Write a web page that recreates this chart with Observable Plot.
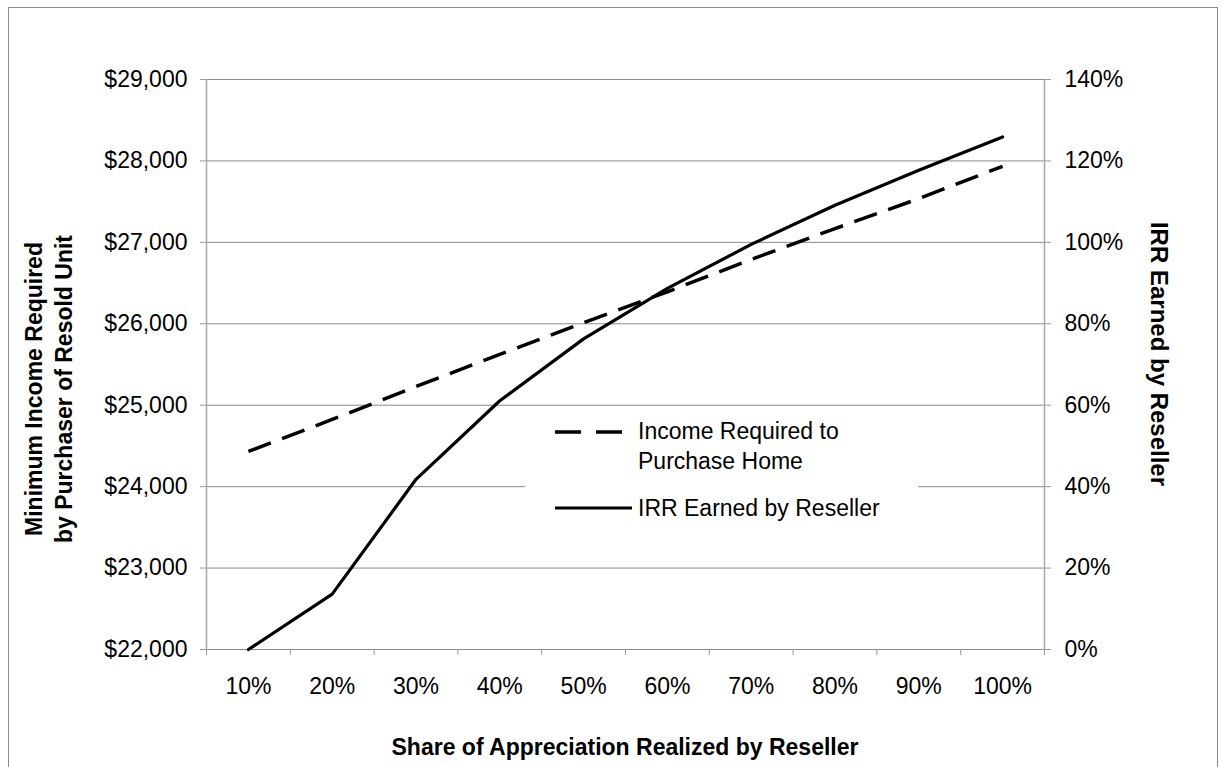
<!DOCTYPE html>
<html>
<head>
<meta charset="utf-8">
<script src="https://cdn.jsdelivr.net/npm/d3@7"></script>
<script src="https://cdn.jsdelivr.net/npm/@observablehq/plot@0.6"></script>
<style>
  html, body { margin: 0; padding: 0; background: #fff; }
  #chart svg { display: block; }
</style>
</head>
<body>
<div id="chart"></div>
<script>
// ---- data ----
const shareLabels = ["10%", "20%", "30%", "40%", "50%", "60%", "70%", "80%", "90%", "100%"];
const incomeRequired = [24432, 24825, 25229, 25625, 26013, 26393, 26790, 27169, 27537, 27934];
const irrEarned = [0, 13.6, 41.8, 61.1, 76.3, 88.7, 99.5, 109.1, 117.7, 125.9]; // percent
const incomeTicks = [22000, 23000, 24000, 25000, 26000, 27000, 28000, 29000];
const irrTicks = [0, 20, 40, 60, 80, 100, 120, 140];
const seriesNames = ["Income Required to Purchase Home", "IRR Earned by Reseller"];

// right axis maps IRR 0..140% onto the left scale 22000..29000
const irrToY = v => incomeTicks[0] + v * (incomeTicks[incomeTicks.length - 1] - incomeTicks[0]) / irrTicks[irrTicks.length - 1];

const incomeRows = shareLabels.map((s, i) => ({pos: i + 1, value: incomeRequired[i]}));
const irrRows = shareLabels.map((s, i) => ({pos: i + 1, value: irrToY(irrEarned[i])}));
const centers = shareLabels.map((s, i) => i + 1);
const bounds = [...shareLabels.map((s, i) => i + 0.5), shareLabels.length + 0.5];

const font = "'Liberation Sans', Arial, sans-serif";
const fmtMoney = d3.format(",");

const chart = Plot.plot({
  width: 1226,
  height: 767,
  marginLeft: 206,
  marginRight: 182,
  marginTop: 79,
  marginBottom: 118,
  style: {fontFamily: font, fontSize: "23px", color: "#000", background: "#fff"},
  x: {domain: [0.5, shareLabels.length + 0.5]},
  y: {domain: [incomeTicks[0], incomeTicks[incomeTicks.length - 1]]},
  marks: [
    Plot.gridY(incomeTicks, {stroke: "#8a8a8a", strokeOpacity: 1, strokeWidth: 1}),
    Plot.ruleX([0.5, shareLabels.length + 0.5], {stroke: "#a8a8a8", strokeWidth: 1.5}),
    Plot.axisY(incomeTicks, {anchor: "left", tickSize: 6, tickPadding: 13, stroke: "#999", fill: "#000",
      fontSize: 23, tickFormat: d => "$" + fmtMoney(d), label: null}),
    Plot.axisY(irrTicks.map(irrToY), {anchor: "right", tickSize: 6, tickPadding: 14, stroke: "#999", fill: "#000",
      fontSize: 23, tickFormat: (d, i) => irrTicks[i] + "%", label: null}),
    Plot.axisX(bounds, {tickSize: 6, tickFormat: () => "", stroke: "#999", label: null}),
    Plot.axisX(centers, {tickSize: 0, tickPadding: 28, fill: "#000", fontSize: 23,
      tickFormat: d => shareLabels[d - 1], label: null}),
    Plot.line(incomeRows, {x: "pos", y: "value", stroke: "#000", strokeWidth: 3.5,
      strokeDasharray: "24,12", strokeLinecap: "butt"}),
    Plot.line(irrRows, {x: "pos", y: "value", stroke: "#000", strokeWidth: 3.2})
  ]
});

const svg = d3.select(chart);

// outer chart frame
svg.insert("rect", ":first-child")
  .attr("x", 8.5).attr("y", 7.5).attr("width", 1209).attr("height", 800)
  .attr("fill", "none").attr("stroke", "#8c8c8c").attr("stroke-width", 1);

// axis titles
svg.append("text")
  .attr("transform", "translate(42,389) rotate(-90)")
  .attr("text-anchor", "middle").attr("font-family", font).attr("font-size", 23)
  .attr("font-weight", "bold").attr("fill", "#000")
  .text("Minimum Income Required");
svg.append("text")
  .attr("transform", "translate(72,389) rotate(-90)")
  .attr("text-anchor", "middle").attr("font-family", font).attr("font-size", 23)
  .attr("font-weight", "bold").attr("fill", "#000")
  .text("by Purchaser of Resold Unit");
svg.append("text")
  .attr("transform", "translate(1151,354) rotate(90)")
  .attr("text-anchor", "middle").attr("font-family", font).attr("font-size", 24)
  .attr("font-weight", "bold").attr("fill", "#000")
  .text("IRR Earned by Reseller");
svg.append("text")
  .attr("x", 625).attr("y", 755)
  .attr("text-anchor", "middle").attr("font-family", font).attr("font-size", 23)
  .attr("font-weight", "bold").attr("fill", "#000")
  .text("Share of Appreciation Realized by Reseller");

// legend
const lg = svg.append("g").attr("text-anchor", "start");
lg.append("rect").attr("x", 525).attr("y", 412).attr("width", 393).attr("height", 130).attr("fill", "#fff");
lg.append("line").attr("x1", 555).attr("x2", 627).attr("y1", 432).attr("y2", 432)
  .attr("stroke", "#000").attr("stroke-width", 3.5).attr("stroke-dasharray", "26,15");
lg.append("line").attr("x1", 555).attr("x2", 632).attr("y1", 508).attr("y2", 508)
  .attr("stroke", "#000").attr("stroke-width", 3.2);
const legendText = lg.append("text").attr("font-family", font).attr("font-size", 23)
  .attr("fill", "#000").attr("text-anchor", "start");
legendText.append("tspan").attr("x", 638).attr("y", 439).text("Income Required to");
legendText.append("tspan").attr("x", 638).attr("y", 469).text("Purchase Home");
lg.append("text").attr("x", 638).attr("y", 516).attr("font-family", font).attr("font-size", 23)
  .attr("fill", "#000").attr("text-anchor", "start").text(seriesNames[1]);

document.getElementById("chart").appendChild(chart);
</script>
</body>
</html>
